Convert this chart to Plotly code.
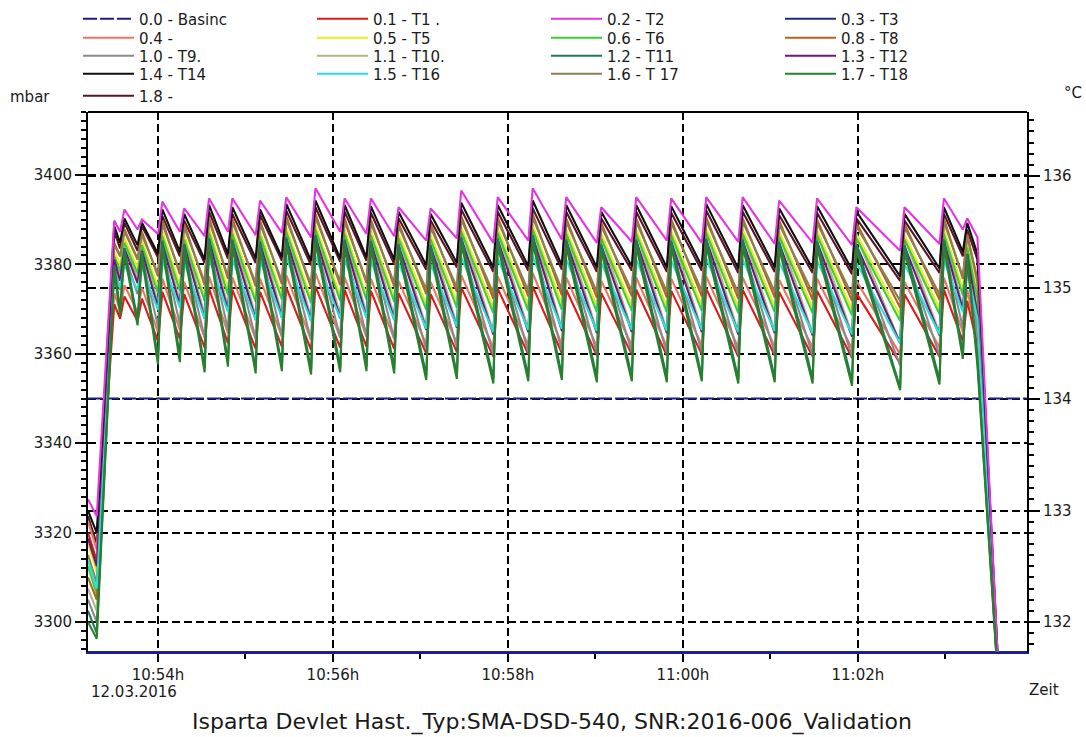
import plotly.graph_objects as go

DAY = "2016-03-12 "

# Turning points of the holding phase: start, first rise, then for every
# steam pulse the trough just before it and its top, then the final drop.
key_times = [
    "10:53:12", "10:53:18", "10:53:30",
    "10:53:34", "10:53:37", "10:53:46", "10:53:49", "10:54:00", "10:54:03",
    "10:54:15", "10:54:18", "10:54:32", "10:54:35", "10:54:48", "10:54:51",
    "10:55:07", "10:55:10", "10:55:25", "10:55:28", "10:55:45", "10:55:48",
    "10:56:05", "10:56:08", "10:56:23", "10:56:26", "10:56:42", "10:56:45",
    "10:57:04", "10:57:07", "10:57:25", "10:57:28", "10:57:50", "10:57:53",
    "10:58:14", "10:58:17", "10:58:37", "10:58:40", "10:59:01", "10:59:04",
    "10:59:25", "10:59:28", "10:59:49", "10:59:52", "11:00:13", "11:00:16",
    "11:00:38", "11:00:41", "11:01:03", "11:01:06", "11:01:29", "11:01:32",
    "11:01:56", "11:01:59", "11:02:29", "11:02:32", "11:02:56", "11:02:59",
    "11:03:12", "11:03:15",
    "11:03:22", "11:03:37",
]

# pressure channel (mbar) and the sensor that stays at the bottom of the scale
basinc_times = ["10:53:12", "11:03:56"]
basinc_mbar = [3350.0, 3350.0]
t3_times = ["10:53:12", "11:03:56"]
t3_degc = [131.73, 131.73]

# temperature channels (degC) at the key times
t1_degc = [132.80, 132.55, 134.85,
           134.72, 134.92, 134.70, 134.90, 134.52, 134.96,
           134.54, 134.94, 134.46, 134.99, 134.50, 134.98,
           134.45, 134.96, 134.47, 135.00, 134.44, 135.01,
           134.46, 134.98, 134.47, 134.97, 134.45, 134.95,
           134.41, 134.94, 134.42, 135.00, 134.38, 134.99,
           134.40, 135.01, 134.41, 134.98, 134.39, 134.95,
           134.40, 134.98, 134.39, 134.97, 134.40, 134.99,
           134.38, 134.98, 134.39, 134.96, 134.38, 134.97,
           134.37, 134.95, 134.32, 134.94, 134.38, 134.98,
           134.52, 134.88,
           134.48, 131.30]
t2_degc = [133.10, 132.95, 135.60,
           135.50, 135.70, 135.52, 135.61, 135.48, 135.77,
           135.50, 135.71, 135.46, 135.80, 135.50, 135.80,
           135.47, 135.78, 135.49, 135.81, 135.45, 135.89,
           135.50, 135.80, 135.48, 135.80, 135.46, 135.72,
           135.42, 135.71, 135.44, 135.87, 135.40, 135.81,
           135.42, 135.89, 135.43, 135.81, 135.40, 135.72,
           135.41, 135.81, 135.42, 135.80, 135.40, 135.81,
           135.41, 135.81, 135.39, 135.78, 135.40, 135.80,
           135.38, 135.72, 135.33, 135.72, 135.39, 135.80,
           135.52, 135.62,
           135.45, 131.40]
ch04_degc = [132.90, 132.65, 134.95,
             134.80, 135.02, 134.78, 135.00, 134.60, 135.08,
             134.62, 135.05, 134.55, 135.10, 134.59, 135.09,
             134.54, 135.08, 134.56, 135.11, 134.53, 135.13,
             134.55, 135.09, 134.56, 135.08, 134.54, 135.06,
             134.49, 135.05, 134.50, 135.11, 134.46, 135.10,
             134.48, 135.13, 134.49, 135.09, 134.47, 135.06,
             134.48, 135.09, 134.47, 135.08, 134.48, 135.10,
             134.46, 135.09, 134.47, 135.07, 134.46, 135.08,
             134.45, 135.06, 134.40, 135.05, 134.46, 135.09,
             134.60, 134.98,
             134.56, 131.30]
t5_degc = [132.70, 132.45, 135.32,
           135.20, 135.44, 135.18, 135.42, 135.00, 135.50,
           135.02, 135.47, 134.92, 135.53, 134.98, 135.52,
           134.91, 135.50, 134.93, 135.54, 134.90, 135.56,
           134.92, 135.52, 134.93, 135.51, 134.91, 135.48,
           134.85, 135.47, 134.87, 135.54, 134.82, 135.53,
           134.84, 135.56, 134.85, 135.52, 134.83, 135.48,
           134.84, 135.52, 134.83, 135.51, 134.84, 135.53,
           134.82, 135.52, 134.83, 135.50, 134.82, 135.51,
           134.80, 135.48, 134.75, 135.47, 134.81, 135.52,
           134.98, 135.40,
           134.95, 131.35]
t6_degc = [132.50, 132.25, 135.28,
           135.15, 135.40, 135.13, 135.38, 134.95, 135.46,
           134.97, 135.43, 134.88, 135.49, 134.93, 135.48,
           134.87, 135.46, 134.89, 135.50, 134.86, 135.52,
           134.88, 135.48, 134.89, 135.47, 134.87, 135.44,
           134.80, 135.43, 134.82, 135.50, 134.77, 135.49,
           134.79, 135.52, 134.80, 135.48, 134.78, 135.44,
           134.79, 135.48, 134.78, 135.47, 134.79, 135.49,
           134.77, 135.48, 134.78, 135.46, 134.77, 135.47,
           134.75, 135.44, 134.70, 135.43, 134.76, 135.48,
           134.93, 135.36,
           134.90, 131.35]
t8_degc = [132.40, 132.20, 135.40,
           135.28, 135.52, 135.25, 135.50, 135.10, 135.60,
           135.12, 135.57, 135.02, 135.63, 135.08, 135.62,
           135.01, 135.60, 135.03, 135.64, 135.00, 135.66,
           135.02, 135.62, 135.04, 135.61, 135.01, 135.58,
           134.94, 135.57, 134.96, 135.64, 134.90, 135.63,
           134.92, 135.66, 134.93, 135.62, 134.91, 135.58,
           134.92, 135.62, 134.91, 135.61, 134.92, 135.63,
           134.90, 135.62, 134.91, 135.60, 134.89, 135.61,
           134.88, 135.58, 134.82, 135.57, 134.89, 135.62,
           135.08, 135.48,
           135.05, 131.35]
t9_degc = [132.20, 132.00, 135.20,
           134.98, 135.30, 134.94, 135.28, 134.65, 135.36,
           134.67, 135.33, 134.55, 135.39, 134.62, 135.38,
           134.54, 135.36, 134.56, 135.40, 134.53, 135.42,
           134.55, 135.38, 134.56, 135.37, 134.54, 135.34,
           134.44, 135.33, 134.46, 135.40, 134.40, 135.39,
           134.42, 135.42, 134.43, 135.38, 134.41, 135.34,
           134.42, 135.38, 134.41, 135.37, 134.42, 135.39,
           134.40, 135.38, 134.41, 135.36, 134.39, 135.37,
           134.38, 135.34, 134.30, 135.33, 134.39, 135.38,
           134.64, 135.26,
           134.60, 131.30]
t10_degc = [132.30, 132.10, 135.30,
            135.12, 135.42, 135.08, 135.40, 134.85, 135.48,
            134.87, 135.45, 134.75, 135.51, 134.82, 135.50,
            134.74, 135.48, 134.76, 135.52, 134.73, 135.54,
            134.75, 135.50, 134.76, 135.49, 134.74, 135.46,
            134.64, 135.45, 134.66, 135.52, 134.60, 135.51,
            134.62, 135.54, 134.63, 135.50, 134.61, 135.46,
            134.62, 135.50, 134.61, 135.49, 134.62, 135.51,
            134.60, 135.50, 134.61, 135.48, 134.59, 135.49,
            134.58, 135.46, 134.50, 135.45, 134.59, 135.50,
            134.82, 135.38,
            134.78, 131.30]
t11_degc = [132.10, 131.90, 135.20,
            134.80, 135.35, 134.70, 135.32, 134.36, 135.42,
            134.38, 135.39, 134.28, 135.44, 134.33, 135.43,
            134.27, 135.41, 134.29, 135.45, 134.26, 135.47,
            134.28, 135.43, 134.29, 135.42, 134.27, 135.39,
            134.21, 135.38, 134.22, 135.45, 134.18, 135.44,
            134.20, 135.47, 134.21, 135.43, 134.19, 135.39,
            134.20, 135.43, 134.19, 135.42, 134.20, 135.44,
            134.18, 135.43, 134.19, 135.41, 134.18, 135.42,
            134.16, 135.39, 134.10, 135.38, 134.17, 135.43,
            134.40, 135.30,
            134.35, 131.30]
t12_degc = [132.75, 132.50, 135.25,
            135.06, 135.35, 135.04, 135.33, 134.82, 135.40,
            134.84, 135.38, 134.72, 135.43, 134.79, 135.42,
            134.71, 135.40, 134.73, 135.44, 134.70, 135.46,
            134.72, 135.42, 134.73, 135.41, 134.71, 135.38,
            134.62, 135.37, 134.64, 135.44, 134.58, 135.43,
            134.60, 135.46, 134.61, 135.42, 134.59, 135.38,
            134.60, 135.42, 134.59, 135.41, 134.60, 135.43,
            134.58, 135.42, 134.59, 135.40, 134.57, 135.41,
            134.56, 135.38, 134.50, 135.37, 134.57, 135.42,
            134.80, 135.30,
            134.76, 131.30]
t14_degc = [133.00, 132.80, 135.55,
            135.40, 135.62, 135.38, 135.58, 135.30, 135.70,
            135.32, 135.66, 135.25, 135.74, 135.30, 135.72,
            135.26, 135.70, 135.27, 135.75, 135.24, 135.78,
            135.26, 135.74, 135.27, 135.73, 135.25, 135.68,
            135.20, 135.66, 135.22, 135.76, 135.18, 135.74,
            135.19, 135.78, 135.20, 135.74, 135.18, 135.68,
            135.19, 135.74, 135.18, 135.73, 135.19, 135.75,
            135.17, 135.74, 135.18, 135.71, 135.17, 135.73,
            135.16, 135.68, 135.10, 135.66, 135.17, 135.72,
            135.32, 135.58,
            135.30, 131.40]
t16_degc = [132.55, 132.30, 135.15,
            135.00, 135.20, 134.98, 135.18, 134.80, 135.24,
            134.82, 135.22, 134.72, 135.26, 134.78, 135.25,
            134.71, 135.24, 134.73, 135.27, 134.70, 135.28,
            134.72, 135.25, 134.73, 135.24, 134.71, 135.22,
            134.63, 135.21, 134.65, 135.27, 134.60, 135.26,
            134.62, 135.28, 134.63, 135.25, 134.61, 135.22,
            134.62, 135.25, 134.61, 135.24, 134.62, 135.26,
            134.60, 135.25, 134.61, 135.23, 134.59, 135.24,
            134.58, 135.22, 134.50, 135.21, 134.58, 135.25,
            134.78, 135.16,
            134.72, 131.30]
t17_degc = [132.60, 132.35, 135.38,
            135.28, 135.50, 135.26, 135.47, 135.12, 135.57,
            135.14, 135.54, 135.05, 135.60, 135.10, 135.59,
            135.04, 135.57, 135.06, 135.61, 135.03, 135.63,
            135.05, 135.59, 135.06, 135.58, 135.04, 135.55,
            134.98, 135.54, 135.00, 135.61, 134.95, 135.60,
            134.97, 135.63, 134.98, 135.59, 134.96, 135.55,
            134.97, 135.59, 134.96, 135.58, 134.97, 135.60,
            134.95, 135.59, 134.96, 135.57, 134.95, 135.58,
            134.93, 135.55, 134.88, 135.54, 134.94, 135.59,
            135.10, 135.46,
            135.08, 131.35]
t18_degc = [132.00, 131.85, 135.15,
            134.75, 135.30, 134.66, 135.27, 134.31, 135.36,
            134.33, 135.33, 134.24, 135.38, 134.29, 135.37,
            134.23, 135.35, 134.25, 135.39, 134.22, 135.41,
            134.24, 135.37, 134.25, 135.36, 134.23, 135.33,
            134.17, 135.32, 134.18, 135.39, 134.14, 135.38,
            134.16, 135.41, 134.17, 135.37, 134.15, 135.33,
            134.16, 135.37, 134.15, 135.36, 134.16, 135.38,
            134.14, 135.37, 134.15, 135.35, 134.14, 135.36,
            134.12, 135.33, 134.08, 135.32, 134.13, 135.37,
            134.36, 135.26,
            134.30, 131.30]
ch18_degc = [132.95, 132.70, 135.50,
             135.35, 135.58, 135.33, 135.55, 135.27, 135.64,
             135.28, 135.60, 135.22, 135.68, 135.26, 135.66,
             135.22, 135.65, 135.24, 135.69, 135.20, 135.72,
             135.23, 135.68, 135.24, 135.67, 135.21, 135.62,
             135.16, 135.60, 135.18, 135.70, 135.14, 135.68,
             135.15, 135.71, 135.16, 135.68, 135.14, 135.62,
             135.15, 135.68, 135.14, 135.67, 135.15, 135.69,
             135.13, 135.68, 135.14, 135.65, 135.13, 135.67,
             135.12, 135.62, 135.06, 135.60, 135.13, 135.66,
             135.28, 135.52,
             135.25, 131.40]

FONT = "DejaVu Sans"

# (legend text, times, values, axis, colour, dash, legend row, position in row)
channels = [
    ("0.0 - Basinc", basinc_times, basinc_mbar, "y", "#1c1c8c", "14px,3px", "legend", 0),
    ("0.3 - T3", t3_times, t3_degc, "y2", "#1c2a8c", "solid", "legend", 3),
    ("1.8 -", key_times, ch18_degc, "y2", "#5a1428", "solid", "legend5", 0),
    ("0.4 -", key_times, ch04_degc, "y2", "#ec7464", "solid", "legend2", 0),
    ("0.1 - T1 .", key_times, t1_degc, "y2", "#dd1a1a", "solid", "legend", 1),
    ("1.0 - T9.", key_times, t9_degc, "y2", "#8a8a8a", "solid", "legend3", 0),
    ("1.1 - T10.", key_times, t10_degc, "y2", "#b4b48a", "solid", "legend3", 1),
    ("0.5 - T5", key_times, t5_degc, "y2", "#eaea1e", "solid", "legend2", 1),
    ("0.6 - T6", key_times, t6_degc, "y2", "#3ccc3c", "solid", "legend2", 2),
    ("0.8 - T8", key_times, t8_degc, "y2", "#b4641e", "solid", "legend2", 3),
    ("1.6 - T 17", key_times, t17_degc, "y2", "#8c8050", "solid", "legend4", 2),
    ("1.3 - T12", key_times, t12_degc, "y2", "#6a1a78", "solid", "legend3", 3),
    ("1.5 - T16", key_times, t16_degc, "y2", "#32dcd8", "solid", "legend4", 1),
    ("1.4 - T14", key_times, t14_degc, "y2", "#101010", "solid", "legend4", 0),
    ("0.2 - T2", key_times, t2_degc, "y2", "#e535e0", "solid", "legend", 2),
    ("1.2 - T11", key_times, t11_degc, "y2", "#1e7a58", "solid", "legend3", 2),
    ("1.7 - T18", key_times, t18_degc, "y2", "#2a802a", "solid", "legend4", 3),
]

fig = go.Figure()
for name, times, values, axis, colour, dash, legend, rank in channels:
    fig.add_trace(go.Scatter(
        x=[DAY + c for c in times], y=values, name=name, mode="lines",
        yaxis=axis, legend=legend, legendrank=rank + 1,
        line=dict(color=colour, width=2.1, dash=dash),
        hoverinfo="skip",
    ))

# plot area in pixels: x 88..1027, y 112..652
L, R, T, B = 88, 1027, 112, 652
W, H = 1086, 737


def px_x(p):
    return (p - L) / (R - L)


def px_y(p):
    return (B - p) / (B - T)


tick_font = dict(family=FONT, size=15, color="#1a1a1a")
grid = dict(showgrid=True, gridcolor="#000000", gridwidth=1.5, griddash="8px,4px")

legend_rows = {"legend": 19, "legend2": 38, "legend3": 56, "legend4": 74, "legend5": 96}
legends = {}
for key, row_y in legend_rows.items():
    legends[key] = dict(
        orientation="h", x=px_x(78), y=px_y(row_y), xanchor="left", yanchor="middle",
        entrywidth=168, entrywidthmode="pixels", itemwidth=51,
        font=dict(family=FONT, size=15, color="#1a1a1a"),
        bgcolor="rgba(0,0,0,0)", borderwidth=0, traceorder="normal",
        itemclick=False, itemdoubleclick=False,
    )

fig.update_layout(
    width=W, height=H,
    margin=dict(l=L, r=W - R, t=T, b=H - B, autoexpand=False, pad=0),
    paper_bgcolor="white", plot_bgcolor="white",
    showlegend=True,
    xaxis=dict(
        type="date", range=[DAY + "10:53:12", DAY + "11:03:56"],
        tick0=DAY + "10:54:00", dtick=120000, tickformat="%H:%Mh",
        ticks="outside", ticklen=8, tickwidth=2, tickcolor="#000000",
        tickfont=tick_font, showline=True, linecolor="#1c1c8c", linewidth=2,
        zeroline=False, **grid,
        minor=dict(dtick=60000, ticks="outside", ticklen=5, tickwidth=2,
                   tickcolor="#000000", showgrid=False),
    ),
    yaxis=dict(
        range=[3293.29, 3414.09], tick0=3300, dtick=20,
        ticks="outside", ticklen=11, tickwidth=2, tickcolor="#000000",
        tickfont=tick_font, showline=True, linecolor="#000000", linewidth=2,
        zeroline=False, **grid,
        minor=dict(dtick=2, ticks="outside", ticklen=5, tickwidth=1.5,
                   tickcolor="#000000", showgrid=False),
    ),
    yaxis2=dict(
        range=[131.731, 136.574], tick0=132, dtick=1, overlaying="y", side="right",
        ticks="outside", ticklen=11, tickwidth=2, tickcolor="#000000",
        tickfont=tick_font, showline=True, linecolor="#000000", linewidth=2,
        zeroline=False, **grid,
        minor=dict(dtick=0.1, ticks="outside", ticklen=5, tickwidth=1.5,
                   tickcolor="#000000", showgrid=False),
    ),
    # medium ticks (every 10 mbar / 0.5 degC) between the labelled ones
    yaxis3=dict(
        range=[3293.29, 3414.09], tick0=3300, dtick=10, overlaying="y", side="left",
        ticks="outside", ticklen=8, tickwidth=2, tickcolor="#000000",
        showticklabels=False, showgrid=False, zeroline=False, showline=False,
    ),
    yaxis4=dict(
        range=[131.731, 136.574], tick0=132, dtick=0.5, overlaying="y", side="right",
        ticks="outside", ticklen=8, tickwidth=2, tickcolor="#000000",
        showticklabels=False, showgrid=False, zeroline=False, showline=False,
    ),
    **legends,
    shapes=[dict(type="line", xref="paper", yref="paper", x0=0, x1=1, y0=1, y1=1,
                 line=dict(color="#000000", width=2), layer="above")],
)

text_font = dict(family=FONT, size=15, color="#1a1a1a")
notes = [
    ("mbar", 30, 97, text_font),
    ("°C", 1073, 93, text_font),
    ("Zeit", 1044, 690, text_font),
    ("12.03.2016", 134, 692, text_font),
    ("Isparta Devlet Hast._Typ:SMA-DSD-540, SNR:2016-006_Validation", 552, 722,
     dict(family=FONT, size=22, color="#1a1a1a")),
]
for text, nx, ny, f in notes:
    fig.add_annotation(text=text, x=px_x(nx), y=px_y(ny), xref="paper", yref="paper",
                       showarrow=False, xanchor="center", yanchor="middle", font=f)

fig.write_html("out.html")
